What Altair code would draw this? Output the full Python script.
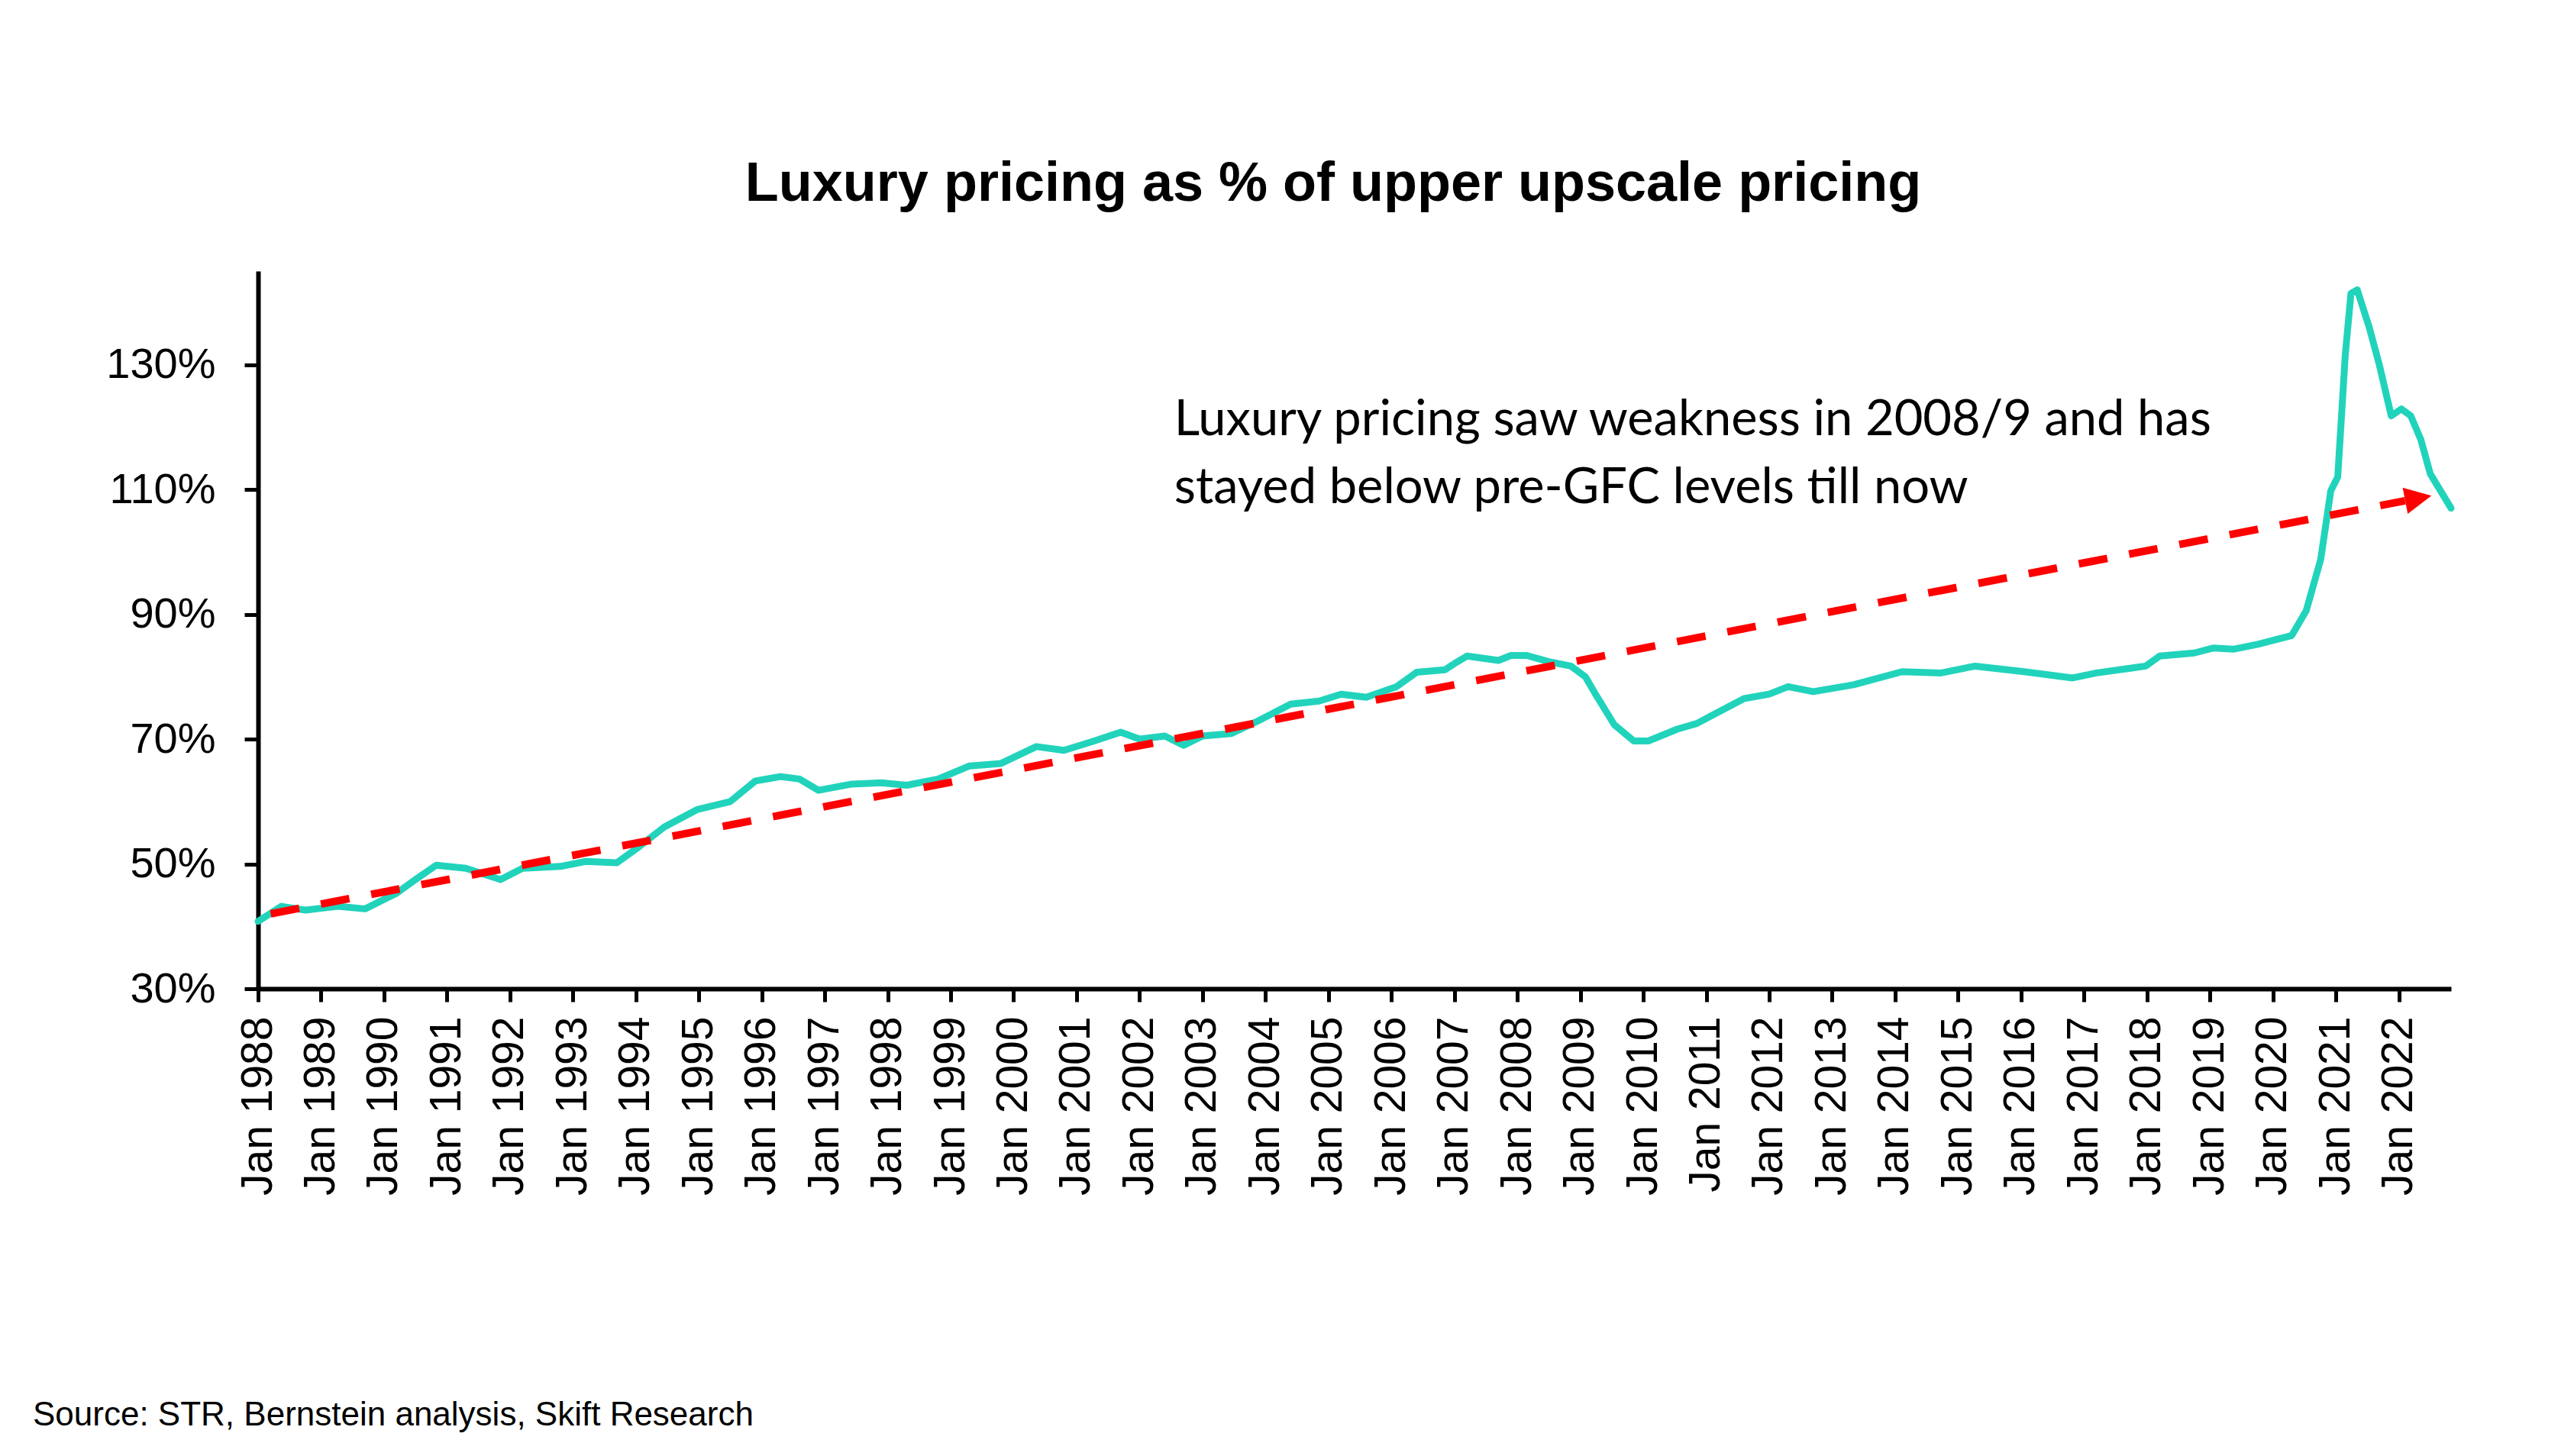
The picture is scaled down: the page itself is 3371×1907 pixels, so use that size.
import altair as alt
import pandas as pd

# ---- data ----
years = [1988.0, 1988.37, 1988.75, 1989.26, 1989.7, 1990.2, 1990.5, 1990.83, 1991.3, 1991.85,
         1992.2, 1992.8, 1993.2, 1993.7, 1994.03, 1994.45, 1994.97, 1995.5, 1995.9, 1996.3,
         1996.6, 1996.9, 1997.43, 1997.9, 1998.3, 1998.8, 1999.3, 1999.8, 2000.36, 2000.8,
         2001.25, 2001.7, 2002.0, 2002.4, 2002.7, 2003.0, 2003.46, 2003.9, 2004.4, 2004.85,
         2005.2, 2005.6, 2006.08, 2006.4, 2006.85, 2007.0, 2007.2, 2007.7, 2007.9, 2008.15,
         2008.5, 2008.85, 2009.08, 2009.23, 2009.54, 2009.85, 2010.08, 2010.54, 2010.85, 2011.15,
         2011.6, 2012.0, 2012.3, 2012.7, 2013.34, 2014.11, 2014.73, 2015.27, 2016.05, 2016.82,
         2017.2, 2017.98, 2018.2, 2018.75, 2019.06, 2019.37, 2019.76, 2020.3, 2020.53, 2020.76,
         2020.92, 2021.03, 2021.15, 2021.24, 2021.34, 2021.53, 2021.69, 2021.88, 2022.04, 2022.19,
         2022.35, 2022.5, 2022.83]
values = [40.8, 43.2, 42.6, 43.2, 42.8, 45.3, 47.5, 49.8, 49.3, 47.5,
          49.3, 49.6, 50.4, 50.2, 52.6, 55.9, 58.7, 60.0, 63.3, 64.0,
          63.6, 61.8, 62.8, 63.0, 62.6, 63.6, 65.7, 66.1, 68.8, 68.2,
          69.6, 71.1, 70.0, 70.5, 69.0, 70.5, 70.9, 73.0, 75.6, 76.1,
          77.2, 76.7, 78.4, 80.7, 81.1, 82.1, 83.3, 82.6, 83.4, 83.4,
          82.4, 81.7, 80.0, 77.4, 72.3, 69.7, 69.7, 71.6, 72.5, 74.1,
          76.5, 77.2, 78.4, 77.6, 78.7, 80.8, 80.6, 81.7, 80.8, 79.8,
          80.6, 81.7, 83.3, 83.8, 84.6, 84.4, 85.2, 86.6, 90.6, 98.8,
          109.8, 112.0, 131.6, 141.4, 142.0, 136.0, 130.0, 121.8, 122.9, 121.8,
          118.0, 112.5, 107.0]

trend_years = [1988.2, 2022.1]
trend_values = [42.0, 108.2]

year_ticks = list(range(1988, 2023))
pct_ticks = [30, 50, 70, 90, 110, 130]

title_text = "Luxury pricing as % of upper upscale pricing"
note_lines = ["Luxury pricing saw weakness in 2008/9 and has",
              "stayed below pre-GFC levels till now"]
source_text = "Source: STR, Bernstein analysis, Skift Research"

df = pd.DataFrame({"year": years, "value": values})
trend = pd.DataFrame({"year": trend_years, "value": trend_values})
one = pd.DataFrame({"k": [0]})

AX_FONT = "Liberation Sans"

x_scale = alt.Scale(domain=[1988, 2022.83], nice=False, zero=False)
y_scale = alt.Scale(domain=[30, 145], nice=False, zero=False)

x_axis = alt.Axis(values=year_ticks, labelExpr="'Jan ' + datum.value", labelAngle=270,
                  labelFont=AX_FONT, labelFontSize=57, labelColor="black", labelPadding=19,
                  labelFlush=False, labelOverlap=False, labelBound=False, labelLimit=1000,
                  tickSize=17, tickWidth=5, tickColor="black",
                  domainColor="black", domainWidth=6, grid=False, title=None)
y_axis = alt.Axis(values=pct_ticks, labelExpr="datum.value + '%'",
                  labelFont=AX_FONT, labelFontSize=56, labelColor="black", labelPadding=38,
                  labelFlush=False, labelOverlap=False, labelLimit=1000,
                  tickSize=18, tickWidth=5, tickColor="black",
                  domainColor="black", domainWidth=6, grid=False, title=None)

line = alt.Chart(df).mark_line(color="#22D3BC", strokeWidth=9, strokeJoin="round",
                               strokeCap="round").encode(
    x=alt.X("year:Q", scale=x_scale, axis=x_axis),
    y=alt.Y("value:Q", scale=y_scale, axis=y_axis),
)

trend_line = alt.Chart(trend).mark_line(color="#FF0000", strokeWidth=10,
                                        strokeDash=[38, 29], strokeCap="butt").encode(
    x=alt.X("year:Q", scale=x_scale),
    y=alt.Y("value:Q", scale=y_scale),
)

arrow_head = alt.Chart(one).mark_point(shape="M -1 -1 L 1 0 L -1 1 Z", size=1225, filled=True,
                                       color="#FF0000", opacity=1, strokeWidth=0,
                                       angle=349).encode(
    x=alt.datum(2022.31),
    y=alt.datum(108.6),
)

note = alt.Chart(one).mark_text(text=note_lines, align="left", baseline="alphabetic",
                                font="Lato", fontSize=65, lineHeight=89,
                                color="black").encode(
    x=alt.datum(2002.55),
    y=alt.datum(118.75),
)

source = alt.Chart(one).mark_text(text=source_text, align="left", baseline="alphabetic",
                                  font=AX_FONT, fontSize=44, color="black").encode(
    x=alt.value(-295),
    y=alt.value(1512),
)

chart = alt.layer(line, trend_line, arrow_head, note, source).properties(
    width=2872,
    height=940,
    title=alt.TitleParams(title_text, font=AX_FONT, fontSize=72, fontWeight="bold",
                          color="black", anchor="middle", frame="group", dx=-28,
                          offset=20, baseline="alphabetic"),
    autosize=alt.AutoSizeParams(type="none"),
    padding={"left": 330, "top": 347, "right": 153, "bottom": 604},
).configure(background="white").configure_view(stroke=None, strokeWidth=0)

chart.save("out.html", embed_options={"renderer": "svg", "actions": False})
